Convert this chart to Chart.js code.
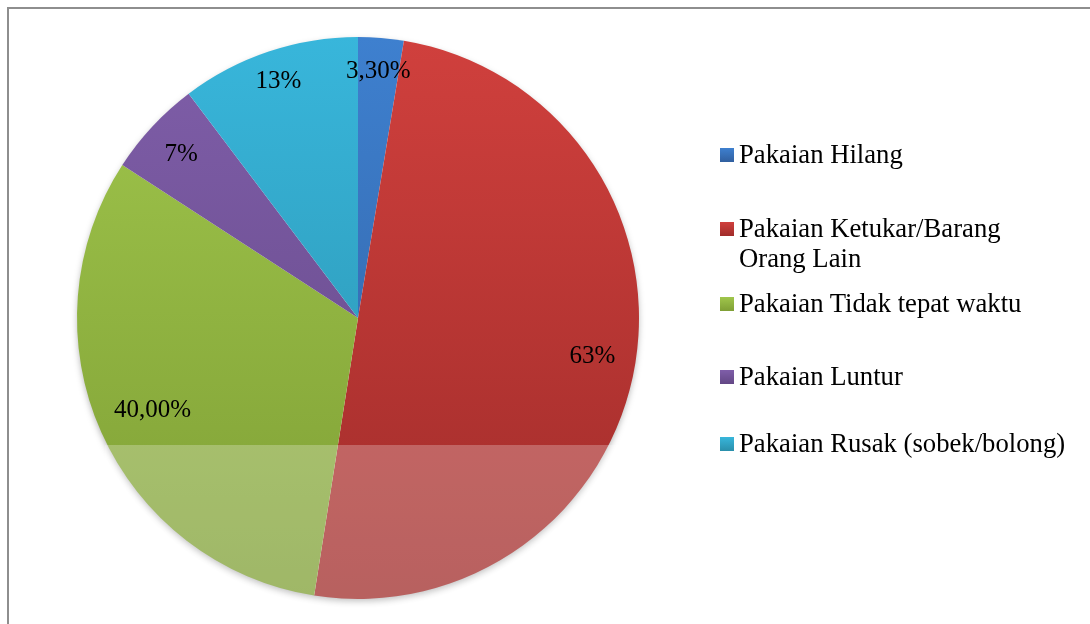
<!DOCTYPE html>
<html lang="id">

<head>
    <meta charset="UTF-8">
    <title>Keluhan Pelanggan Laundry</title>
    <script src="https://cdn.jsdelivr.net/npm/chart.js"></script>
    <style>
        body { margin: 0; background: #fff; }
        .wrap { position: relative; width: 1090px; height: 624px; overflow: hidden; }
        .frame { position: absolute; left: 7px; top: 7px; width: 1200px; height: 800px;
                 border-top: 2px solid #8e8e8e; border-left: 2px solid #8e8e8e; }
        #pieChart { position: absolute; left: 0; top: 0; }
        .legend { position: absolute; left: 0; top: 0; font-family: "Liberation Serif", "Times New Roman", serif;
                  font-size: 26.7px; line-height: 30px; color: #000; }
        .legend .item { position: absolute; left: 739px; white-space: nowrap; }
        .legend .box { position: absolute; left: -19px; top: 9px; width: 14px; height: 14px; }
    </style>
</head>

<body>
    <div class="wrap">
        <div class="frame"></div>
        <canvas id="pieChart" width="1090" height="624"></canvas>
        <div class="legend" id="legend"></div>
    </div>

    <script>
        // data
        const categories = ['Pakaian Hilang', 'Pakaian Ketukar/Barang\nOrang Lain', 'Pakaian Tidak tepat waktu', 'Pakaian Luntur', 'Pakaian Rusak (sobek/bolong)'];
        const values = [3.3, 63, 40, 7, 13];
        const valueLabels = ['3,30%', '63%', '40,00%', '7%', '13%'];

        // colours (top of pie -> bottom of pie)
        const topColors = ['#3e80cf', '#d0403d', '#a0c64c', '#7f5ea9', '#38b6db'];
        const bottomColors = ['#305f9f', '#a02c2a', '#7f9f35', '#634785', '#2a8fab'];
        const labelRadius = [0.885, 0.845, 0.80, 0.86, 0.89];
        const legendTops = [139, 213, 288, 361, 428];

        function sliceFill(context) {
            const chart = context.chart;
            const area = chart.chartArea;
            if (!area) return topColors[context.dataIndex];
            const g = chart.ctx.createLinearGradient(0, area.top, 0, area.bottom);
            g.addColorStop(0, topColors[context.dataIndex]);
            g.addColorStop(1, bottomColors[context.dataIndex]);
            return g;
        }

        // soft shadow under the pie
        const shadowPlugin = {
            id: 'pieShadow',
            beforeDatasetsDraw(chart) {
                const arc = chart.getDatasetMeta(0).data[0];
                if (!arc) return;
                const ctx = chart.ctx;
                ctx.save();
                ctx.shadowColor = 'rgba(0,0,0,0.35)';
                ctx.shadowBlur = 7;
                ctx.shadowOffsetY = 3;
                ctx.fillStyle = '#fff';
                ctx.beginPath();
                ctx.arc(arc.x, arc.y, arc.outerRadius - 1, 0, Math.PI * 2);
                ctx.fill();
                ctx.restore();
            }
        };

        // pale band from the scanned watermark
        const washPlugin = {
            id: 'wash',
            afterDatasetsDraw(chart) {
                const ctx = chart.ctx;
                ctx.save();
                ctx.fillStyle = 'rgba(255,255,255,0.25)';
                ctx.fillRect(105, 445, 985, 179);
                ctx.restore();
            }
        };

        const valueLabelPlugin = {
            id: 'valueLabels',
            afterDraw(chart) {
                const ctx = chart.ctx;
                ctx.save();
                ctx.font = '25px "Liberation Serif", "Times New Roman", serif';
                ctx.fillStyle = '#000';
                ctx.textAlign = 'center';
                ctx.textBaseline = 'middle';
                chart.getDatasetMeta(0).data.forEach((arc, i) => {
                    const mid = (arc.startAngle + arc.endAngle) / 2;
                    const r = arc.outerRadius * labelRadius[i];
                    ctx.fillText(valueLabels[i], arc.x + Math.cos(mid) * r, arc.y + Math.sin(mid) * r + 1);
                });
                ctx.restore();
            }
        };

        new Chart(document.getElementById('pieChart'), {
            type: 'pie',
            data: {
                labels: categories,
                datasets: [{
                    data: values,
                    backgroundColor: sliceFill,
                    borderWidth: 0
                }]
            },
            options: {
                responsive: false,
                animation: false,
                layout: { padding: { left: 77, right: 451, top: 37, bottom: 25 } },
                plugins: {
                    legend: { display: false },
                    tooltip: { enabled: false }
                }
            },
            plugins: [shadowPlugin, washPlugin, valueLabelPlugin]
        });

        // legend as real text on the right
        const legend = document.getElementById('legend');
        categories.forEach((name, i) => {
            const item = document.createElement('div');
            item.className = 'item';
            item.style.top = legendTops[i] + 'px';
            const box = document.createElement('span');
            box.className = 'box';
            box.style.background = 'linear-gradient(to bottom, ' + topColors[i] + ', ' + bottomColors[i] + ')';
            item.appendChild(box);
            name.split('\n').forEach((line, j) => {
                if (j > 0) item.appendChild(document.createElement('br'));
                item.appendChild(document.createTextNode(line));
            });
            legend.appendChild(item);
        });
    </script>
</body>

</html>
